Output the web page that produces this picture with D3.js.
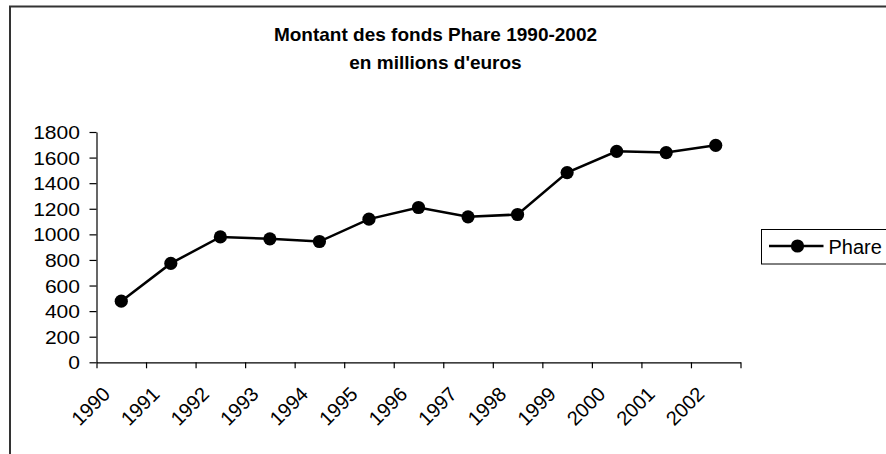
<!DOCTYPE html>
<html>
<head>
<meta charset="utf-8">
<script src="https://cdn.jsdelivr.net/npm/d3@7"></script>
<style>
  html, body { margin: 0; padding: 0; background: #fff; }
  svg { display: block; }
  text { font-family: "Liberation Sans", Arial, sans-serif; fill: #000; }
</style>
</head>
<body>
<svg id="chart" width="886" height="454"></svg>
<script>
const years = ["1990","1991","1992","1993","1994","1995","1996","1997","1998","1999","2000","2001","2002"];
const phare = [478, 773, 980, 965, 944, 1119, 1210, 1137, 1155, 1483, 1649, 1639, 1696];
const yTicks = [0, 200, 400, 600, 800, 1000, 1200, 1400, 1600, 1800];
const titleLines = ["Montant des fonds Phare 1990-2002", "en millions d'euros"];
const seriesName = "Phare";

const svg = d3.select("#chart");

// outer chart frame (extends past right/bottom edges)
svg.append("rect")
  .attr("x", 10).attr("y", 6.5).attr("width", 900).attr("height", 500)
  .attr("fill", "none").attr("stroke", "#333").attr("stroke-width", 2);

// title
svg.append("text")
  .attr("x", 435.5).attr("y", 41)
  .attr("text-anchor", "middle")
  .style("font-weight", "bold").style("font-size", "19px")
  .text(titleLines[0]);
svg.append("text")
  .attr("x", 435.5).attr("y", 69)
  .attr("text-anchor", "middle")
  .style("font-weight", "bold").style("font-size", "19px")
  .text(titleLines[1]);

const plotL = 96.5, plotR = 740.5, plotT = 132, plotB = 362.3;

const x = d3.scaleBand().domain(years).range([plotL, plotR]).padding(0);
const y = d3.scaleLinear().domain([0, 1800]).range([plotB, plotT]);
const xb = d3.scaleLinear().domain([0, years.length]).range([plotL, plotR]);

// y axis
const yAxis = svg.append("g")
  .attr("transform", `translate(${plotL},0)`)
  .call(d3.axisLeft(y).tickValues(yTicks).tickSize(7).tickSizeOuter(0).tickFormat(""));
yAxis.selectAll("path, line").attr("stroke", "#000").attr("stroke-width", 1.2);

yAxis.selectAll(".tick").each(function(d) {
  d3.select(this).append("text")
    .attr("transform", "translate(-16.5,0) scale(1.17,1)")
    .attr("text-anchor", "end")
    .attr("dy", "0.36em")
    .style("font-size", "18px")
    .attr("fill", "#000")
    .text(d);
});

// x axis (ticks at category boundaries)
const xAxis = svg.append("g")
  .attr("transform", `translate(0,${plotB})`)
  .call(d3.axisBottom(xb).tickValues(d3.range(years.length + 1)).tickSize(6).tickSizeOuter(0).tickFormat(""));
xAxis.selectAll("path, line").attr("stroke", "#000").attr("stroke-width", 1.2);

// x labels, rotated
svg.append("g").selectAll("text")
  .data(years)
  .join("text")
  .attr("transform", d => `translate(${x(d) + x.bandwidth() / 2 - 10},${plotB + 33}) rotate(-45)`)
  .attr("text-anchor", "end")
  .style("font-size", "20px")
  .text(d => d);

// series line
const pts = years.map((yr, i) => [x(yr) + x.bandwidth() / 2, y(phare[i])]);
svg.append("path")
  .attr("d", d3.line()(pts))
  .attr("fill", "none").attr("stroke", "#000").attr("stroke-width", 2.5);

svg.append("g").selectAll("circle")
  .data(years)
  .join("circle")
  .attr("cx", d => x(d) + x.bandwidth() / 2)
  .attr("cy", (d, i) => y(phare[i]))
  .attr("r", 6.6)
  .attr("fill", "#000");

// legend
const lg = svg.append("g");
lg.append("rect")
  .attr("x", 761.5).attr("y", 229.5).attr("width", 140).attr("height", 34.5)
  .attr("fill", "#fff").attr("stroke", "#000").attr("stroke-width", 1);
lg.append("line")
  .attr("x1", 769).attr("x2", 823.5).attr("y1", 246).attr("y2", 246)
  .attr("stroke", "#000").attr("stroke-width", 2.5);
lg.append("circle")
  .attr("cx", 797.5).attr("cy", 246).attr("r", 6.6).attr("fill", "#000");
lg.append("text")
  .attr("x", 828.5).attr("y", 253.5)
  .style("font-size", "20px")
  .text(seriesName);
</script>
</body>
</html>
